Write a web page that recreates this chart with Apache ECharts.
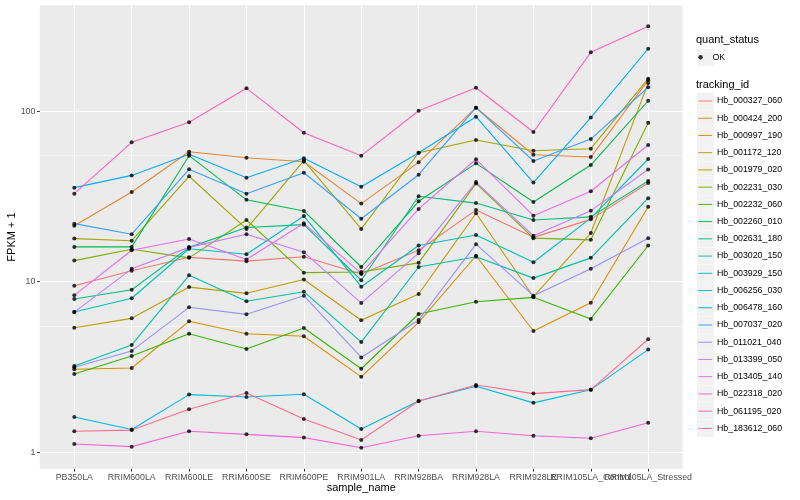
<!DOCTYPE html>
<html><head><meta charset="utf-8">
<script src="https://cdn.jsdelivr.net/npm/echarts@6.0.0/dist/echarts.min.js"></script>
<style>html,body{margin:0;padding:0;background:#fff}#c{width:800px;height:500px}</style>
</head><body><div id="c"></div>
<script>
// ---- data ----
const samples = ['PB350LA','RRIM600LA','RRIM600LE','RRIM600SE','RRIM600PE','RRIM901LA','RRIM928BA','RRIM928LA','RRIM928LE','RRIM105LA_Control','RRIM105LA_Stressed'];
const trackingIds = ['Hb_000327_060','Hb_000424_200','Hb_000997_190','Hb_001172_120','Hb_001979_020','Hb_002231_030','Hb_002232_060','Hb_002260_010','Hb_002631_180','Hb_003020_150','Hb_003929_150','Hb_006256_030','Hb_006478_160','Hb_007037_020','Hb_011021_040','Hb_013399_050','Hb_013405_140','Hb_022318_020','Hb_061195_020','Hb_183612_060'];
const yTickValues = [1, 10, 100];

const Hb_000327_060 = [9.48, 11.6, 13.9, 13.2, 14.0, 11.1, 15.3, 26.3, 18.2, 23.2, 37.9];
const Hb_000424_200 = [21.3, 33.6, 57.8, 53.3, 50.5, 28.7, 50.1, 104.7, 55.5, 53.8, 151.6];
const Hb_000997_190 = [3.07, 3.12, 5.86, 4.96, 4.79, 2.77, 5.78, 14.2, 5.14, 7.53, 27.5];
const Hb_001172_120 = [5.37, 6.1, 9.3, 8.55, 10.3, 5.95, 8.47, 25.2, 8.17, 19.3, 146];
const Hb_001979_020 = [17.9, 17.4, 41.5, 20.4, 51.3, 20.4, 57.0, 67.7, 58.6, 60.2, 154.9];
const Hb_002231_030 = [13.3, 15.5, 13.8, 23.0, 11.3, 11.4, 12.9, 37.7, 18.0, 17.6, 85.5];
const Hb_002232_060 = [2.88, 3.67, 4.96, 4.03, 5.35, 3.09, 6.47, 7.63, 8.1, 6.05, 16.3];
const Hb_002260_010 = [16.0, 16.0, 54.8, 30.2, 26.0, 12.2, 29.6, 49.4, 29.3, 48.3, 115];
const Hb_002631_180 = [7.92, 8.98, 15.9, 20.8, 21.6, 10.2, 31.7, 28.9, 23.0, 24.0, 38.9];
const Hb_003020_150 = [3.21, 4.26, 10.9, 7.68, 8.74, 4.43, 12.2, 14.0, 10.5, 13.8, 30.9];
const Hb_003929_150 = [6.64, 8.0, 15.6, 14.5, 24.3, 9.35, 16.3, 18.8, 13.0, 23.6, 52.4];
const Hb_006256_030 = [1.61, 1.36, 2.18, 2.11, 2.19, 1.37, 2.0, 2.44, 1.95, 2.33, 4.0];
const Hb_006478_160 = [35.6, 42.0, 55.8, 40.7, 52.9, 36.0, 57.0, 92.7, 38.1, 91.6, 232];
const Hb_007037_020 = [21.9, 19.0, 45.6, 32.8, 43.5, 23.4, 42.4, 104.7, 51.0, 68.6, 138];
const Hb_011021_040 = [3.15, 3.93, 7.08, 6.44, 8.28, 3.6, 5.96, 16.6, 8.28, 11.9, 18.0];
const Hb_013399_050 = [6.64, 11.9, 15.9, 19.0, 14.9, 7.5, 14.7, 38.4, 18.6, 26.1, 45.5];
const Hb_013405_140 = [8.32, 15.3, 17.8, 13.5, 22.0, 11.2, 26.7, 52.2, 24.4, 33.9, 63.3];
const Hb_022318_020 = [1.12, 1.08, 1.33, 1.275, 1.22, 1.064, 1.25, 1.33, 1.25, 1.21, 1.49];
const Hb_061195_020 = [32.8, 65.6, 86, 136, 74.7, 54.8, 100.5, 137, 75.4, 221, 314];
const Hb_183612_060 = [1.33, 1.35, 1.79, 2.23, 1.57, 1.18, 2.0, 2.48, 2.21, 2.33, 4.6];

const seriesValues = [Hb_000327_060, Hb_000424_200, Hb_000997_190, Hb_001172_120, Hb_001979_020, Hb_002231_030, Hb_002232_060, Hb_002260_010, Hb_002631_180, Hb_003020_150, Hb_003929_150, Hb_006256_030, Hb_006478_160, Hb_007037_020, Hb_011021_040, Hb_013399_050, Hb_013405_140, Hb_022318_020, Hb_061195_020, Hb_183612_060];

// ---- style ----
const colors = ['#F8766D','#EA8331','#D89000','#C09B00','#A3A500','#7CAE00','#39B600','#00BB4E','#00BF7D','#00C1A3','#00BFC4','#00BAE0','#00B0F6','#35A2FF','#9590FF','#C77CFF','#E76BF3','#FA62DB','#FF62BC','#FF6C90'];
const FONT = '"Liberation Sans", Arial, Helvetica, sans-serif';
const P = {left: 39.86, right: 682.6, top: 5.24, bottom: 468.8};
const C1 = 74.3, C11 = 648.2;
const yMin = 0.8008, yMax = 417.4;
const legendPitch = 17.23, legendFirst = 101;

const chart = echarts.init(document.getElementById('c'));

const lineSeries = trackingIds.map((id, i) => ({
  name: id, type: 'line', xAxisIndex: 1, yAxisIndex: 1,
  data: seriesValues[i], symbol: 'none', color: colors[i],
  lineStyle: {width: 1.1}, z: 2, silent: true, animation: false,
  emphasis: {disabled: true}
}));
const pointData = [];
seriesValues.forEach(arr => arr.forEach((v, j) => pointData.push([j, v])));

const keyRects = [{type:'rect', shape:{x:697, y:57.3-8.5, width:17, height:17}, style:{fill:'#F2F2F2'}, z:1}];
trackingIds.forEach((id, i) => keyRects.push({type:'rect', shape:{x:697, y:legendFirst + i*legendPitch - 8.5, width:17, height:17}, style:{fill:'#F2F2F2'}, z:1}));

chart.setOption({
  animation: false,
  backgroundColor: '#fff',
  textStyle: {fontFamily: FONT},
  grid: [
    {left: P.left, top: P.top, width: P.right - P.left, height: P.bottom - P.top, show: true, backgroundColor: '#EBEBEB', borderWidth: 0, outerBoundsMode: 'none', containLabel: false},
    {left: C1, top: P.top, width: C11 - C1, height: P.bottom - P.top, show: false, outerBoundsMode: 'none', containLabel: false}
  ],
  xAxis: [
    {gridIndex: 0, type: 'value', min: 0, max: 1, show: false},
    {gridIndex: 1, type: 'category', data: samples, boundaryGap: false,
     axisLine: {show: false},
     axisTick: {show: true, length: 2.75, lineStyle: {color: '#333333', width: 1}},
     axisLabel: {interval: 0, color: '#4D4D4D', fontSize: 8.8, margin: 4, hideOverlap: false, fontFamily: FONT},
     splitLine: {show: true, lineStyle: {color: '#FFFFFF', width: 1.1}},
     name: 'sample_name', nameLocation: 'middle', nameGap: 14, nameMoveOverlap: false,
     nameTextStyle: {color: '#000', fontSize: 11, fontFamily: FONT}}
  ],
  yAxis: [
    {gridIndex: 0, type: 'log', logBase: 10, min: yMin, max: yMax,
     axisLine: {show: false},
     axisTick: {show: true, length: 2.75, customValues: yTickValues, lineStyle: {color: '#333333', width: 1}},
     axisLabel: {color: '#4D4D4D', fontSize: 8.8, margin: 4.5, fontFamily: FONT, customValues: yTickValues,
       formatter: v => String(Math.round(v))},
     splitLine: {show: true, lineStyle: {color: '#FFFFFF', width: 1.1}},
     minorTick: {show: false, splitNumber: 2},
     minorSplitLine: {show: true, lineStyle: {color: '#FFFFFF', width: 0.55}},
     name: 'FPKM + 1', nameLocation: 'middle', nameGap: 22, nameRotate: 90, nameMoveOverlap: false,
     nameTextStyle: {color: '#000', fontSize: 11, fontFamily: FONT}},
    {gridIndex: 1, type: 'log', logBase: 10, min: yMin, max: yMax, show: false}
  ],
  legend: [
    {data: [{name: 'OK', icon: 'circle'}], left: 698.3, top: 57.3 - 6, padding: 0, itemWidth: 13.7, itemHeight: 4.5,
     textStyle: {fontSize: 8.8, color: '#000', lineHeight: 12, fontFamily: FONT}, selectedMode: false},
    {data: trackingIds.map(id => ({name: id})), orient: 'vertical', left: 698.3, top: legendFirst - 6, padding: 0,
     itemWidth: 13.7, itemHeight: 1.4, itemGap: legendPitch - 12, icon: 'path://M0,0H14V1H0Z',
     textStyle: {fontSize: 8.8, color: '#000', lineHeight: 12, fontFamily: FONT}, selectedMode: false}
  ],
  graphic: [
    {type: 'text', left: 696, top: 34, style: {text: 'quant_status', fontSize: 11, fontFamily: FONT, fill: '#000'}, z: 1},
    {type: 'text', left: 696, top: 79, style: {text: 'tracking_id', fontSize: 11, fontFamily: FONT, fill: '#000'}, z: 1}
  ].concat(keyRects),
  series: lineSeries.concat([{
    name: 'OK', type: 'scatter', xAxisIndex: 1, yAxisIndex: 1, data: pointData,
    symbol: 'circle', symbolSize: 4, itemStyle: {color: '#000'}, z: 5, silent: true
  }])
});
</script></body></html>
